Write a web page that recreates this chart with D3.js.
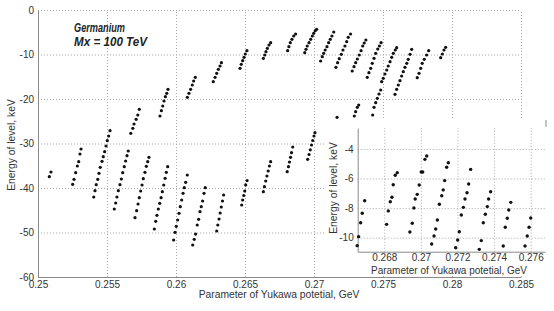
<!DOCTYPE html>
<html>
<head>
<meta charset="utf-8">
<script src="https://cdn.jsdelivr.net/npm/d3@7"></script>
<style>
  body { margin: 0; background: #fff; }
  text { font-family: "Liberation Sans", Arial, sans-serif; }
</style>
</head>
<body>
<div id="chart"></div>
<script>
// tick values
const mainXTicks = [0.25, 0.255, 0.26, 0.265, 0.27, 0.275, 0.28, 0.285];
const mainYTicks = [0, -10, -20, -30, -40, -50, -60];
const insetXTicks = [0.268, 0.27, 0.272, 0.274, 0.276];
const insetYTicks = [-4, -6, -8, -10];

// energy levels, [yukawa parameter GeV, energy keV] - lower family of streaks
const lowerBand = [
  [0.25082,-37.46],[0.25094,-36.40],
  [0.25251,-39.17],[0.25261,-38.04],[0.25273,-36.56],[0.25285,-35.06],[0.25295,-34.09],[0.25304,-32.36],[0.25312,-31.24],
  [0.25404,-42.02],[0.25413,-40.61],[0.25422,-39.26],[0.25433,-38.04],[0.25442,-36.70],[0.25451,-35.35],[0.25464,-34.00],
  [0.25473,-32.97],[0.25483,-31.84],[0.25493,-30.56],[0.25502,-29.37],[0.25512,-28.31],[0.25522,-27.12],
  [0.25553,-44.72],[0.25563,-43.37],[0.25572,-42.02],[0.25582,-40.61],[0.25594,-39.26],[0.25604,-37.98],[0.25614,-36.56],
  [0.25625,-35.21],[0.25635,-33.93],[0.25645,-32.74],[0.25654,-31.69],
  [0.25703,-46.67],[0.25715,-45.10],[0.25725,-43.60],[0.25734,-42.18],[0.25744,-40.67],[0.25754,-39.33],[0.25763,-37.91],
  [0.25775,-36.47],[0.25785,-35.12],[0.25795,-34.09],[0.25804,-33.10],
  [0.25843,-49.21],[0.25853,-47.48],[0.25862,-46.14],[0.25872,-44.72],[0.25882,-43.44],[0.25892,-42.18],[0.25901,-40.83],
  [0.25911,-39.33],[0.25921,-37.82],[0.25930,-36.47],[0.25940,-35.21],
  [0.25983,-51.69],[0.25993,-49.96],[0.26002,-48.61],[0.26012,-47.19],[0.26022,-45.69],[0.26031,-44.20],[0.26041,-42.70],
  [0.26051,-41.19],[0.26060,-39.93],[0.26070,-38.72],[0.26082,-37.08],
  [0.26121,-52.81],[0.26132,-51.53],[0.26142,-50.35],[0.26154,-48.31],[0.26164,-47.03],[0.26174,-45.33],[0.26183,-44.20],
  [0.26193,-42.92],[0.26203,-41.19],[0.26212,-39.93],
  [0.26295,-49.66],[0.26303,-48.31],[0.26312,-46.97],[0.26320,-45.62],[0.26328,-44.27],[0.26337,-42.92],[0.26345,-41.57],
  [0.26476,-43.82],[0.26483,-42.70],[0.26491,-41.69],[0.26498,-40.67],[0.26505,-39.30],[0.26515,-38.34],
  [0.26633,-40.83],[0.26641,-39.71],[0.26650,-38.43],[0.26659,-37.30],[0.26668,-36.18],[0.26677,-35.06],[0.26686,-34.09],
  [0.26806,-36.34],[0.26815,-35.21],[0.26822,-34.16],[0.26830,-33.10],[0.26837,-32.07],[0.26846,-30.79],
  [0.26954,-33.55],[0.26964,-32.47],[0.26973,-31.42],[0.26982,-30.34],[0.26991,-29.33],[0.27000,-28.31],[0.27007,-27.57],
  [0.27167,-24.11],
  [0.27292,-23.82],[0.27302,-22.85],[0.27314,-21.87],[0.27324,-21.35]
];

// upper family of streaks
const upperBand = [
  [0.25672,-27.71],[0.25687,-26.58],[0.25696,-25.62],[0.25711,-24.56],[0.25723,-23.60],[0.25734,-22.31],
  [0.25884,-23.82],[0.25894,-22.63],[0.25904,-21.57],[0.25913,-20.45],[0.25923,-19.48],[0.25933,-18.72],[0.25942,-17.82],
  [0.26082,-19.62],[0.26094,-18.72],[0.26106,-17.82],[0.26118,-16.85],[0.26128,-15.96],[0.26140,-15.12],
  [0.26270,-16.11],[0.26283,-15.12],[0.26295,-14.22],[0.26307,-13.33],[0.26319,-12.58],[0.26329,-11.84],
  [0.26464,-13.10],[0.26473,-12.20],[0.26483,-11.39],[0.26493,-10.63],[0.26502,-9.89],[0.26514,-9.15],
  [0.26633,-10.85],[0.26643,-10.11],[0.26652,-9.37],[0.26662,-8.61],[0.26674,-7.87],[0.26686,-7.35],
  [0.26809,-9.15],[0.26818,-8.25],[0.26828,-7.35],[0.26840,-6.58],[0.26853,-5.84],[0.26867,-5.39],
  [0.26933,-9.60],[0.26942,-8.83],[0.26951,-8.09],[0.26964,-7.35],[0.26976,-6.58],[0.26988,-5.84],[0.26998,-5.24],
  [0.27009,-4.65],[0.27019,-4.34],
  [0.27048,-11.46],[0.27060,-10.49],[0.27070,-9.73],[0.27081,-8.99],[0.27094,-8.25],[0.27106,-7.35],[0.27118,-6.58],
  [0.27130,-5.84],[0.27143,-4.94],
  [0.27159,-12.88],[0.27171,-11.84],[0.27183,-10.94],[0.27198,-9.96],[0.27210,-8.99],[0.27224,-8.09],[0.27237,-7.12],
  [0.27248,-6.13],[0.27265,-5.39],
  [0.27277,-13.71],[0.27290,-12.74],[0.27302,-11.84],[0.27314,-11.01],[0.27328,-10.11],[0.27341,-9.15],[0.27353,-8.09],
  [0.27364,-7.42],[0.27376,-6.74],
  [0.27386,-15.12],[0.27398,-14.09],[0.27411,-13.10],[0.27422,-11.98],[0.27435,-10.85],[0.27447,-9.73],[0.27462,-8.76],
  [0.27474,-8.09],[0.27486,-7.35],
  [0.27425,-23.60],[0.27435,-21.87],[0.27447,-20.83],[0.27459,-19.84],[0.27471,-18.88],[0.27483,-17.98],[0.27490,-16.11],
  [0.27502,-15.35],[0.27514,-14.38],[0.27527,-13.48],[0.27538,-12.58],[0.27551,-11.62],[0.27563,-10.63],[0.27575,-9.73],
  [0.27589,-8.99],[0.27599,-8.47],
  [0.27587,-18.94],[0.27599,-17.82],[0.27611,-16.85],[0.27623,-15.89],[0.27635,-14.83],[0.27647,-13.87],[0.27659,-12.88],
  [0.27672,-11.98],[0.27683,-11.08],[0.27696,-9.96],[0.27708,-8.83],
  [0.27748,-15.21],[0.27761,-14.22],[0.27773,-13.10],[0.27784,-11.98],[0.27799,-11.08],[0.27816,-10.11],[0.27831,-9.15],
  [0.27918,-10.72],[0.27930,-9.89],[0.27942,-8.99],[0.27954,-8.38]
];

// zoomed region 0.2666 .. 0.2768 GeV
const insetPoints = [
  [0.26652,-10.54],[0.26660,-9.93],[0.26671,-8.99],[0.26680,-8.35],[0.26693,-7.50],
  [0.26813,-9.10],[0.26822,-8.19],[0.26833,-7.57],[0.26842,-7.27],[0.26849,-6.42],[0.26860,-5.78],[0.26871,-5.60],
  [0.26940,-9.62],[0.26953,-9.03],[0.26962,-7.99],[0.26969,-7.38],[0.26980,-7.07],[0.26991,-6.44],[0.27002,-5.56],
  [0.27010,-5.56],[0.27022,-4.70],[0.27032,-4.47],
  [0.27059,-10.43],[0.27072,-9.89],[0.27081,-9.41],[0.27090,-8.80],[0.27101,-7.74],[0.27114,-7.16],[0.27122,-6.77],
  [0.27130,-6.14],[0.27141,-5.24],[0.27150,-4.93],
  [0.27190,-10.68],[0.27201,-10.16],[0.27210,-9.60],[0.27221,-8.47],[0.27232,-7.95],[0.27241,-7.38],[0.27252,-6.96],
  [0.27261,-6.37],[0.27272,-5.38],
  [0.27319,-10.79],[0.27330,-10.20],[0.27341,-8.99],[0.27352,-8.42],[0.27363,-7.90],[0.27370,-7.38],[0.27381,-6.89],
  [0.27450,-10.56],[0.27461,-9.30],[0.27472,-8.69],[0.27480,-8.13],[0.27491,-7.61],
  [0.27569,-10.56],[0.27581,-9.89],[0.27591,-9.30],[0.27600,-8.67]
];

const width = 554, height = 311;
const axisColor = '#8a8a8a', gridColor = '#a8a8a8', labelColor = '#333';
const fmt = d => String(+d.toFixed(3));

const svg = d3.select('#chart').append('svg')
  .attr('width', width)
  .attr('height', height);

svg.append('rect').attr('width', width).attr('height', height).attr('fill', '#fff');

// draws grid + axes + dots for one panel
function drawPanel(g, x, y, xTicks, yTicks, points, r, xPad) {
  const [x0, x1] = x.range();
  const [y0, y1] = y.range();

  g.append('g')
    .attr('transform', `translate(0,${y0})`)
    .call(d3.axisBottom(x).tickValues(xTicks).tickSize(-(y0 - y1)).tickFormat(''))
    .call(s => s.select('.domain').remove())
    .selectAll('line')
    .attr('stroke', gridColor)
    .attr('stroke-dasharray', '1,2');

  g.append('g')
    .attr('transform', `translate(${x0},0)`)
    .call(d3.axisLeft(y).tickValues(yTicks).tickSize(-(x1 - x0)).tickFormat(''))
    .call(s => s.select('.domain').remove())
    .selectAll('line')
    .attr('stroke', gridColor)
    .attr('stroke-dasharray', '1,2');

  const xAxis = g.append('g')
    .attr('transform', `translate(0,${y0})`)
    .call(d3.axisBottom(x).tickValues(xTicks).tickSize(0).tickSizeOuter(0).tickPadding(xPad).tickFormat(fmt));
  const yAxis = g.append('g')
    .attr('transform', `translate(${x0},0)`)
    .call(d3.axisLeft(y).tickValues(yTicks).tickSize(0).tickSizeOuter(0).tickPadding(4).tickFormat(d => String(d)));

  [xAxis, yAxis].forEach(a => {
    a.select('.domain').attr('stroke', axisColor);
    a.selectAll('text').attr('fill', labelColor).style('font-size', '10px')
      .style('font-family', '"Liberation Sans", Arial, sans-serif');
  });

  g.append('g')
    .selectAll('circle')
    .data(points)
    .enter()
    .append('circle')
    .attr('cx', d => x(d[0]))
    .attr('cy', d => y(d[1]))
    .attr('r', r)
    .attr('fill', '#111');
}

// main plot
const xMain = d3.scaleLinear().domain([0.25, 0.285]).range([38, 521]);
const yMain = d3.scaleLinear().domain([-60, 0]).range([277, 10]);
const main = svg.append('g');
drawPanel(main, xMain, yMain, mainXTicks, mainYTicks, lowerBand.concat(upperBand), 1.6, 4);

main.append('text')
  .attr('x', 279).attr('y', 298)
  .attr('text-anchor', 'middle')
  .attr('fill', labelColor)
  .style('font-size', '10.3px')
  .text('Parameter of Yukawa potetial, GeV');

main.append('text')
  .attr('transform', 'translate(15,145) rotate(-90)')
  .attr('text-anchor', 'middle')
  .attr('fill', labelColor)
  .style('font-size', '10.3px')
  .text('Energy of level, keV');

main.append('text')
  .attr('x', 74).attr('y', 32)
  .attr('fill', '#222')
  .attr('textLength', 51).attr('lengthAdjust', 'spacingAndGlyphs')
  .style('font-size', '12.5px').style('font-weight', 'bold').style('font-style', 'italic')
  .text('Germanium');

main.append('text')
  .attr('x', 74).attr('y', 46)
  .attr('fill', '#222')
  .attr('textLength', 73).attr('lengthAdjust', 'spacingAndGlyphs')
  .style('font-size', '12.5px').style('font-weight', 'bold').style('font-style', 'italic')
  .text('Mx = 100 TeV');

// inset, white backing hides the main plot beneath
svg.append('rect')
  .attr('x', 325).attr('y', 119)
  .attr('width', 229).attr('height', 155)
  .attr('fill', '#fff');

svg.append('line')
  .attr('x1', 546).attr('x2', 546).attr('y1', 120).attr('y2', 127)
  .attr('stroke', axisColor);

const xInset = d3.scaleLinear().domain([0.26655, 0.27678]).range([357.7, 545]);
const yInset = d3.scaleLinear().domain([-10.95, -2.58]).range([251.7, 128]);
const inset = svg.append('g');
drawPanel(inset, xInset, yInset, insetXTicks, insetYTicks, insetPoints, 1.7, 2.5);

inset.append('text')
  .attr('x', 449).attr('y', 273.5)
  .attr('text-anchor', 'middle')
  .attr('fill', labelColor)
  .style('font-size', '10px')
  .text('Parameter of Yukawa potetial, GeV');

inset.append('text')
  .attr('transform', 'translate(337,188) rotate(-90)')
  .attr('text-anchor', 'middle')
  .attr('fill', labelColor)
  .style('font-size', '10.3px')
  .text('Energy of level, keV');
</script>
</body>
</html>
